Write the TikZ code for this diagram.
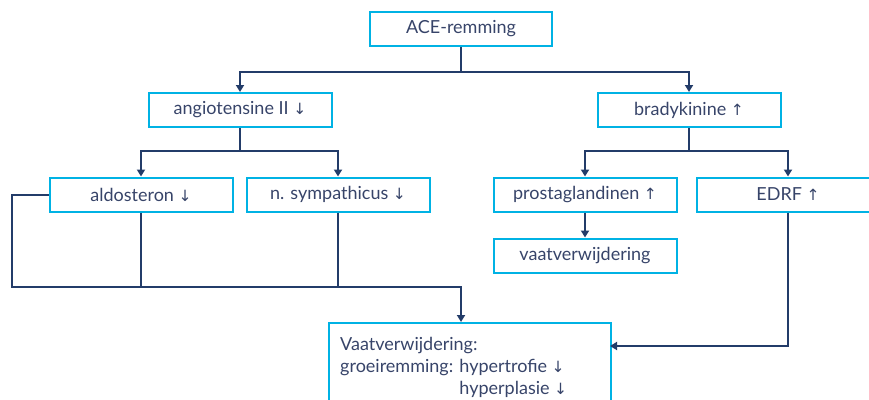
\documentclass[tikz,border=0pt]{standalone}
\usepackage{fontspec}
\setmainfont{Lato}
\newfontfamily\pijlfont{DejaVu Sans}
\usepackage{tikz}
\usetikzlibrary{arrows.meta}
\definecolor{randblauw}{RGB}{0,178,228}
\definecolor{lijnblauw}{RGB}{35,60,105}
\definecolor{tekstblauw}{RGB}{55,68,105}
\newcommand{\pijlneer}{{\pijlfont\fontsize{15.5}{21}\selectfont ↓}}
\newcommand{\pijlop}{{\pijlfont\fontsize{15.5}{21}\selectfont ↑}}
\tikzset{
  vak/.style={draw=randblauw, line width=2pt, text=tekstblauw, minimum width=183pt,
    minimum height=34pt, inner sep=0pt, font=\fontsize{18}{21}\selectfont},
  lijn/.style={draw=lijnblauw, line width=2pt},
  pijl/.style={lijn, -{Triangle[width=8pt,length=7pt]}}
}

\begin{document}
\begin{tikzpicture}[x=1pt,y=-1pt]
        \useasboundingbox (0,0) rectangle (869,399);
        % vakken
        \node[vak, minimum width=182pt] (ace) at (461,29) {ACE-remming};
        \node[vak] (angio) at (240,110) {angiotensine II \pijlneer};
        \node[vak] (brady) at (689,110) {bradykinine \pijlop};
        \node[vak] (aldo) at (141,194.5) {aldosteron \pijlneer};
        \node[vak] (symp) at (338,194.5) {n. sympathicus \pijlneer};
        \node[vak] (prosta) at (585,194.5) {prostaglandinen \pijlop};
        \node[vak] (edrf) at (788,194.5) {EDRF \pijlop};
        \node[vak] (vaat) at (585,255.5) {vaatverwijdering};
        \node[vak, anchor=north west, minimum width=282pt, minimum height=100pt] (effect) at (328,322) {};
        \node[anchor=north west, text=tekstblauw, align=left, inner sep=0pt,
          font=\fontsize{18}{22}\selectfont] (effecttekst) at (340,337)
          {Vaatverwijdering:\\groeiremming: hypertrofie \pijlneer\\
           \phantom{groeiremming: }hyperplasie \pijlneer};
        % knooppunten
        \coordinate (s1) at (461,72);
        \coordinate (s2) at (240,151);
        \coordinate (s3) at (689,151);
        \coordinate (hoek) at (12,287);
        \coordinate (samen) at (461,287);
        \coordinate (inloop) at (610,346);
        % verbindingen
        \draw[lijn] (ace) -- (s1);
        \draw[pijl] (s1) -| (angio);
        \draw[pijl] (s1) -| (brady);
        \draw[lijn] (angio) -- (s2);
        \draw[pijl] (s2) -| (aldo);
        \draw[pijl] (s2) -| (symp);
        \draw[lijn] (brady) -- (s3);
        \draw[pijl] (s3) -| (prosta);
        \draw[pijl] (s3) -| (edrf);
        \draw[pijl] (prosta) -- (vaat);
        \draw[pijl] (aldo.west) -| (hoek) -- (samen) -- (samen |- effect.north);
        \draw[lijn] (aldo.south) -- (aldo.south |- hoek);
        \draw[lijn] (symp.south) -- (symp.south |- hoek);
        \draw[pijl] (edrf.south) |- (inloop);
      \end{tikzpicture}
\end{document}
